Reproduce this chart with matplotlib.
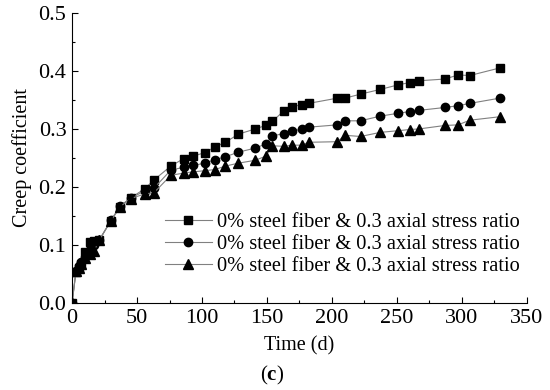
import numpy as np
import matplotlib
matplotlib.use("Agg")
import matplotlib.pyplot as plt
from matplotlib.ticker import MultipleLocator

plt.rcParams['font.family'] = ['Liberation Serif', 'DejaVu Serif']
plt.rcParams['mathtext.fontset'] = 'custom'
plt.rcParams['mathtext.rm'] = 'Liberation Serif'
plt.rcParams['mathtext.bf'] = 'Liberation Serif:bold'

# time (days)
t = [0, 3, 5, 7, 10, 14, 17, 21, 30, 37, 45, 56, 63, 76, 86, 93, 102, 110, 118,
     128, 141, 149, 154, 163, 169, 177, 182, 204, 210, 222, 237, 251, 260, 267,
     287, 297, 306, 329]

sq = [0, 0.053, 0.060, 0.067, 0.088, 0.105, 0.107, 0.109, 0.142, 0.166, 0.181,
      0.197, 0.212, 0.236, 0.249, 0.253, 0.259, 0.269, 0.277, 0.291, 0.300,
      0.306, 0.313, 0.331, 0.338, 0.342, 0.344, 0.353, 0.353, 0.360, 0.368,
      0.376, 0.380, 0.383, 0.386, 0.393, 0.392, 0.405]

ci = [0, 0.055, 0.063, 0.070, 0.080, 0.092, 0.100, 0.108, 0.143, 0.167, 0.181,
      0.193, 0.198, 0.229, 0.234, 0.237, 0.241, 0.247, 0.252, 0.260, 0.267,
      0.274, 0.288, 0.292, 0.296, 0.300, 0.303, 0.307, 0.314, 0.314, 0.322,
      0.327, 0.330, 0.332, 0.337, 0.340, 0.344, 0.353]

tr = [0, 0.055, 0.060, 0.068, 0.078, 0.084, 0.090, 0.109, 0.142, 0.166, 0.180,
      0.188, 0.190, 0.220, 0.224, 0.226, 0.228, 0.230, 0.236, 0.241, 0.246,
      0.253, 0.271, 0.270, 0.272, 0.272, 0.277, 0.278, 0.289, 0.287, 0.294,
      0.297, 0.299, 0.300, 0.306, 0.307, 0.315, 0.321]

labels = ['0% steel fiber & 0.3 axial stress ratio'] * 3

fig = plt.figure(figsize=(5.5, 3.9), dpi=100)
ax = fig.add_axes([0.131, 0.223, 0.827, 0.744])

style = dict(color='#808080', lw=0.8, mfc='black', mec='black')
ax.plot(t, sq, marker='s', ms=5.5, label=labels[0], **style)
ax.plot(t, ci, marker='o', ms=6, label=labels[1], **style)
ax.plot(t, tr, marker='^', ms=6.5, label=labels[2], **style)

ax.set_xlim(0, 350)
ax.set_ylim(0, 0.5)
ax.xaxis.set_major_locator(MultipleLocator(50))
ax.xaxis.set_minor_locator(MultipleLocator(25))
ax.yaxis.set_major_locator(MultipleLocator(0.1))
ax.yaxis.set_minor_locator(MultipleLocator(0.05))
ax.yaxis.set_major_formatter(plt.FormatStrFormatter('%.1f'))
ax.spines['top'].set_visible(False)
ax.spines['right'].set_visible(False)
ax.tick_params(which='both', direction='in', labelsize=16, width=0.8)
ax.tick_params(which='major', length=4, pad=4)
ax.tick_params(which='minor', length=2.5)

ax.set_ylabel('Creep coefficient', fontsize=14.5, labelpad=5)
ax.set_xlabel('Time (d)', fontsize=14.5, labelpad=6)
fig.text(0.495, 0.036, r'($\mathbf{c}$)', fontsize=15, ha='center', va='center')

ax.legend(loc='upper left', bbox_to_anchor=(0.204, 0.31), frameon=False,
          fontsize=14.7, handlelength=2.3, handletextpad=0.25, labelspacing=0.12,
          borderpad=0, borderaxespad=0)

fig.savefig('out.png', dpi=100)
